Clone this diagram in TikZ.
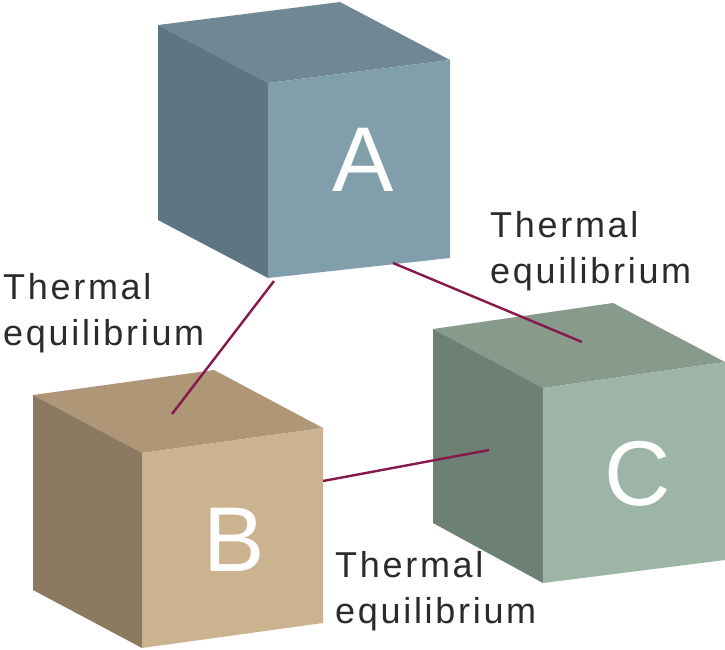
\documentclass[tikz,border=0pt]{standalone}
\usepackage{fontspec}
\setmainfont{Liberation Sans}
\newfontfamily\labelfont[LetterSpace=7.5]{Liberation Sans}
\definecolor{aTop}{HTML}{6F8893}
\definecolor{aFront}{HTML}{819FAB}
\definecolor{aLeft}{HTML}{5E7682}
\definecolor{bTop}{HTML}{AE9677}
\definecolor{bFront}{HTML}{CCB38F}
\definecolor{bLeft}{HTML}{8C7961}
\definecolor{cTop}{HTML}{879A8B}
\definecolor{cFront}{HTML}{9CB5A6}
\definecolor{cLeft}{HTML}{6D8074}
\definecolor{linkcol}{HTML}{86184C}
\definecolor{txtcol}{HTML}{2B2B2B}
\tikzset{
  letter/.style={text=white, font=\fontsize{92}{92}\selectfont, inner sep=0pt},
  lbl/.style={text=txtcol, font=\labelfont\fontsize{36}{46}\selectfont, align=left, inner sep=0pt, anchor=base west},
  link/.style={draw=linkcol, line width=2.4pt},
}
\begin{document}
\begin{tikzpicture}[x=1pt,y=-1pt]
\useasboundingbox (0,0) rectangle (725,649);
% cube A
\fill[aTop] (158,25) -- (340,2) -- (450,60) -- (268,83) -- cycle;
\fill[aLeft] (158,25) -- (268,83) -- (268,278) -- (158,220) -- cycle;
\fill[aFront] (268,83) -- (450,60) -- (450,258) -- (268,278) -- cycle;
% cube B
\fill[bTop] (33,395) -- (214,370) -- (323,428) -- (142,453) -- cycle;
\fill[bLeft] (33,395) -- (142,453) -- (142,648) -- (33,590) -- cycle;
\fill[bFront] (142,453) -- (323,428) -- (323,623) -- (142,648) -- cycle;
% cube C
\fill[cTop] (433,329) -- (613,303) -- (725,362) -- (543,388) -- cycle;
\fill[cLeft] (433,329) -- (543,388) -- (543,583) -- (433,523) -- cycle;
\fill[cFront] (543,388) -- (725,362) -- (725,560) -- (543,583) -- cycle;
% letters
\node[letter] (A) at (363,160) {A};
\node[letter] (B) at (234,540) {B};
\node[letter] (C) at (638,474) {C};
% connector ends
\coordinate (ab1) at (274,281);
\coordinate (ab2) at (172,414);
\coordinate (ac1) at (393,263);
\coordinate (ac2) at (582,342);
\coordinate (bc1) at (323,481);
\coordinate (bc2) at (489,450);
\draw[link] (ab1) -- (ab2);
\draw[link] (ac1) -- (ac2);
\draw[link] (bc1) -- (bc2);
% labels (anchor at baseline of the last line)
\node[lbl] (l1) at (3,345) {Thermal\\equilibrium};
\node[lbl] (l2) at (490,283) {Thermal\\equilibrium};
\node[lbl] (l3) at (335,623) {Thermal\\equilibrium};
\end{tikzpicture}
\end{document}
